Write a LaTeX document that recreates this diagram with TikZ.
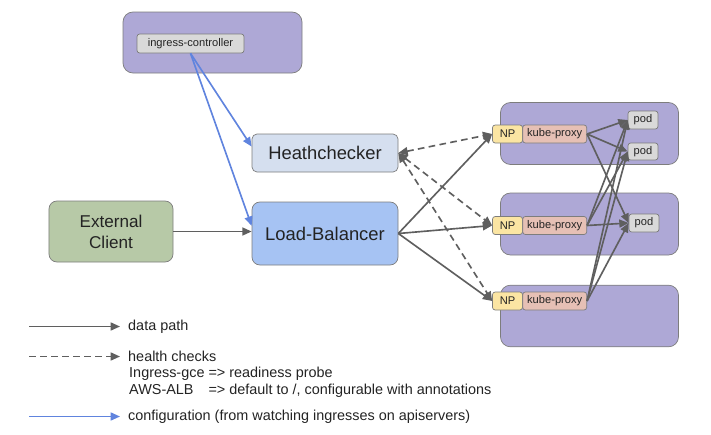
\documentclass[tikz,border=0pt]{standalone}
\usepackage{fontspec}
\setmainfont{Liberation Sans}
\usetikzlibrary{arrows.meta}
\definecolor{lavender}{RGB}{174,168,214}
\definecolor{lightgray}{RGB}{217,217,217}
\definecolor{hcblue}{RGB}{213,223,239}
\definecolor{lbblue}{RGB}{166,195,243}
\definecolor{sage}{RGB}{183,201,167}
\definecolor{npyellow}{RGB}{251,229,163}
\definecolor{kprose}{RGB}{230,192,181}
\definecolor{edge}{RGB}{125,125,125}
\definecolor{arrowgray}{RGB}{95,95,95}
\definecolor{cfgblue}{RGB}{96,132,222}
\definecolor{ink}{RGB}{35,35,35}
\tikzset{gtip/.tip={Triangle[length=2.8mm,width=2.4mm]}}
\begin{document}
\begin{tikzpicture}[
    x=0.3mm, y=-0.3mm,
    font=\fontsize{9.5}{11}\selectfont,
    box/.style={draw=edge,line width=0.6pt,rounded corners=0.8mm,inner sep=0pt,text=ink,align=center},
    host/.style={box,fill=lavender,rounded corners=3mm,minimum width=53.4mm,minimum height=18.6mm},
    small/.style={box,minimum height=5.4mm},
    big/.style={box,minimum width=43.8mm,font=\fontsize{15.7}{18}\selectfont},
    arr/.style={-gtip,line width=1.4pt,draw=arrowgray},
    cfg/.style={arr,draw=cfgblue},
    hc/.style={arr,dash pattern=on 2mm off 1.3mm},
    legend/.style={anchor=west,inner xsep=2.4mm,inner ysep=0pt,text=ink,align=left,font=\fontsize{12.3}{14.5}\selectfont}
]
\useasboundingbox (0,0) rectangle (711,435);
% hosts
\node[host,minimum width=53.7mm,minimum height=18.3mm] (ctrlhost) at (212.5,42.5) {};
\node[host] (host1) at (589.5,133.5) {};
\node[host] (host2) at (589.5,224) {};
\node[host,minimum height=18.5mm] (host3) at (589.5,316) {};
\node[small,fill=lightgray,minimum width=32.1mm,minimum height=5.7mm] (ctrl) at (190.5,43.5) {ingress-controller};
% load balancing side
\node[big,fill=hcblue,rounded corners=1.5mm,minimum height=11.4mm] (health) at (325,153) {Heathchecker};
\node[big,fill=lbblue,rounded corners=2.4mm,minimum height=18.9mm] (lb) at (325,233.5) {Load-Balancer};
\node[box,fill=sage,rounded corners=2.4mm,minimum width=37.2mm,minimum height=18.3mm,font=\fontsize{14.6}{18}\selectfont] (client) at (111,231.5) {External\\Client};
% nodes
\node[small,fill=npyellow,minimum width=9mm] (np1) at (507.5,134) {NP};
\node[small,fill=kprose,minimum width=19.2mm] (kp1) at (554.7,134) {kube-proxy};
\node[small,fill=npyellow,minimum width=9mm] (np2) at (507.5,225.5) {NP};
\node[small,fill=kprose,minimum width=19.2mm] (kp2) at (554.7,225.5) {kube-proxy};
\node[small,fill=npyellow,minimum width=9mm] (np3) at (507.5,301) {NP};
\node[small,fill=kprose,minimum width=19.2mm] (kp3) at (554.7,301) {kube-proxy};
\node[small,fill=lightgray,minimum width=9mm] (pod1) at (643,120) {pod};
\node[small,fill=lightgray,minimum width=9mm,minimum height=5.1mm] (pod2) at (643,151.5) {pod};
\node[small,fill=lightgray,minimum width=9mm] (pod3) at (644,223) {pod};
% connectors
\draw[cfg] (ctrl.south) -- (health.175);
\draw[cfg] (ctrl.south) -- (lb.174);
\draw[arr] (client.east) -- (client.east -| lb.west);
\draw[arr] (lb.east) -- (np1.west);
\draw[arr] (lb.east) -- (np2.west);
\draw[arr] (lb.east) -- (np3.west);
\draw[hc,gtip-gtip] (health.east) -- (np1.west);
\draw[hc,gtip-gtip] (health.east) -- (np2.west);
\draw[hc,gtip-gtip] (health.east) -- (np3.west);
\draw[arr] (kp1.east) -- (pod1.west);
\draw[arr] (kp1.east) -- (pod2.west);
\draw[arr] (kp1.east) -- (pod3.west);
\draw[arr] (kp2.east) -- (pod1.west);
\draw[arr] (kp2.east) -- (pod2.west);
\draw[arr] (kp2.east) -- (pod3.west);
\draw[arr] (kp3.east) -- (pod1.west);
\draw[arr] (kp3.east) -- (pod2.west);
\draw[arr] (kp3.east) -- (pod3.west);
% legend
\node[legend] (dataleg) at (120,326.5) {data path};
\coordinate (dataend) at (29,326.5);
\draw[arr] (dataend) -- (dataleg.west);
\node[legend] (hcleg) at (120,356.5) {health checks};
\coordinate (hcend) at (29,356.5);
\draw[hc] (hcend) -- (hcleg.west);
\node[legend,inner xsep=0pt] (probeleg) at (129,382.5) {\begin{tabular}{@{}l@{ }l@{}}Ingress-gce & => readiness probe\\AWS-ALB & => default to /, configurable with annotations\end{tabular}};
\node[legend] (cfgleg) at (120,416.5) {configuration (from watching ingresses on apiservers)};
\coordinate (cfgend) at (29,416.5);
\draw[cfg] (cfgend) -- (cfgleg.west);
\end{tikzpicture}
\end{document}
